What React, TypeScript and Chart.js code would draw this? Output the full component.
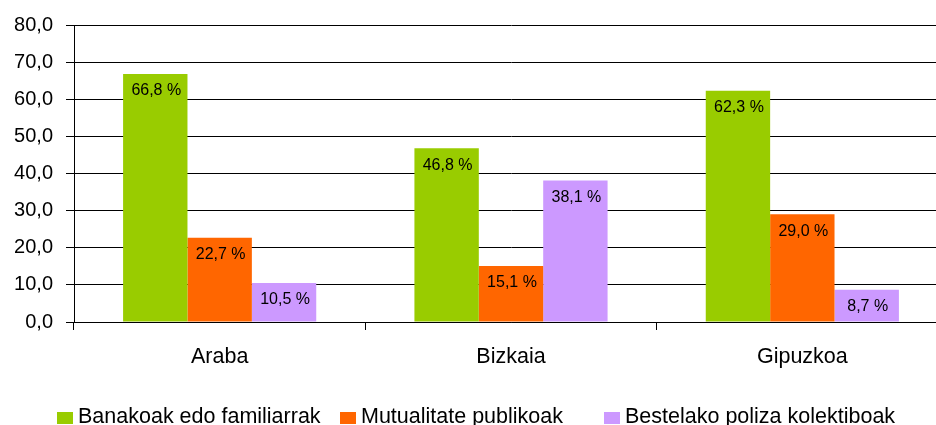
import React, { useEffect, useRef } from 'react';
import { Chart, registerables } from 'chart.js';

Chart.register(...registerables);

const categories = ['Araba', 'Bizkaia', 'Gipuzkoa'];
const seriesNames = ['Banakoak edo familiarrak', 'Mutualitate publikoak', 'Bestelako poliza kolektiboak'];
const banakoak = [66.8, 46.8, 62.3];
const mutualitate = [22.7, 15.1, 29.0];
const bestelako = [10.5, 38.1, 8.7];
const seriesColors = ['#99CC00', '#FF6600', '#CC99FF'];
const yMin = 0;
const yMax = 80;
const yStep = 10;

const FONT = '"Liberation Sans", Arial, sans-serif';

const fmt = (v: number) => v.toFixed(1).replace('.', ',');

const barLabelPlugin = {
  id: 'barLabels',
  afterDatasetsDraw(chart: any) {
    const ctx = chart.ctx;
    ctx.save();
    ctx.font = `16px ${FONT}`;
    ctx.fillStyle = '#000';
    ctx.textAlign = 'center';
    ctx.textBaseline = 'middle';
    chart.data.datasets.forEach((ds: any, i: number) => {
      const meta = chart.getDatasetMeta(i);
      meta.data.forEach((bar: any, j: number) => {
        ctx.fillText(fmt(ds.data[j]) + ' %', bar.x + 1, bar.y + 17);
      });
    });
    ctx.restore();
  },
};

const legendX = [57, 340, 604];

const legendPlugin = {
  id: 'customLegend',
  afterDraw(chart: any) {
    const ctx = chart.ctx;
    ctx.save();
    ctx.font = `21.5px ${FONT}`;
    ctx.textBaseline = 'alphabetic';
    ctx.textAlign = 'left';
    chart.data.datasets.forEach((ds: any, i: number) => {
      const x = legendX[i];
      ctx.fillStyle = ds.backgroundColor;
      ctx.fillRect(x, 412, 16, 12);
      ctx.fillStyle = '#000';
      ctx.fillText(ds.label, x + 21, 423);
    });
    ctx.restore();
  },
};

export default function App() {
  const ref = useRef<HTMLCanvasElement>(null);

  useEffect(() => {
    if (!ref.current) return;
    const values = [banakoak, mutualitate, bestelako];
    const chart = new Chart(ref.current, {
      type: 'bar',
      data: {
        labels: categories,
        datasets: seriesNames.map((name, i) => ({
          label: name,
          data: values[i],
          backgroundColor: seriesColors[i],
          borderWidth: 0,
          categoryPercentage: 0.663,
          barPercentage: 1.0,
        })),
      },
      options: {
        responsive: false,
        animation: false,
        devicePixelRatio: 1,
        layout: { padding: { top: 25, right: 12, left: 0, bottom: 0 } },
        plugins: {
          legend: { display: false },
          tooltip: { enabled: false },
        },
        scales: {
          x: {
            afterFit: (scale: any) => {
              scale.height = 103;
            },
            grid: {
              drawOnChartArea: false,
              drawTicks: true,
              tickLength: 8,
              color: '#000',
              lineWidth: 1,
            },
            border: { color: '#000', width: 1 },
            ticks: {
              color: '#000',
              font: { family: FONT, size: 21.5 },
              padding: 14,
              maxRotation: 0,
            },
          },
          y: {
            min: yMin,
            max: yMax,
            afterFit: (scale: any) => {
              scale.width = 74;
            },
            grid: {
              color: '#000',
              lineWidth: 1,
              tickLength: 8,
            },
            border: { color: '#000', width: 1 },
            ticks: {
              stepSize: yStep,
              color: '#000',
              font: { family: FONT, size: 20 },
              padding: 13,
              callback: (v: any) => fmt(Number(v)),
            },
          },
        },
      },
      plugins: [barLabelPlugin, legendPlugin],
    });
    return () => chart.destroy();
  }, []);

  return (
    <div
      style={{
        position: 'fixed',
        left: 0,
        top: 0,
        width: 936,
        height: 425,
        overflow: 'hidden',
        background: '#fff',
      }}
    >
      <canvas ref={ref} width={960} height={425} style={{ display: 'block', width: 960, height: 425 }} />
    </div>
  );
}
